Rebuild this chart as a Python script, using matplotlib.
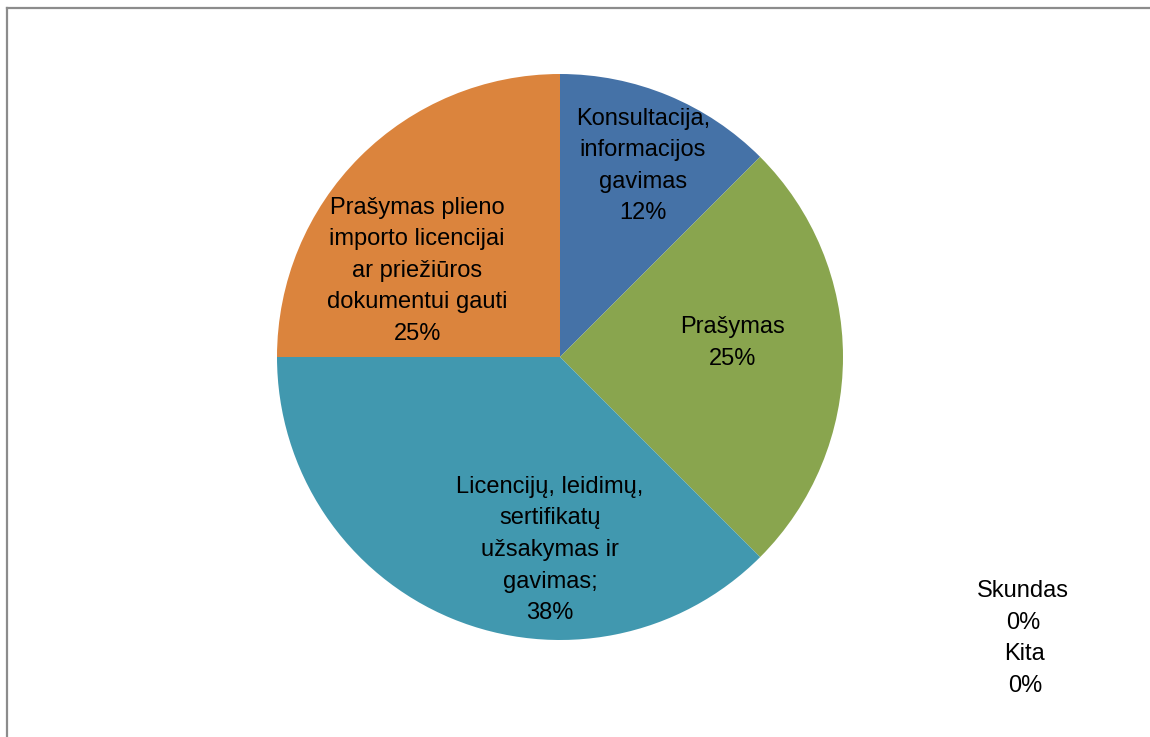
import matplotlib
matplotlib.use('Agg')
import matplotlib.pyplot as plt
from matplotlib.lines import Line2D

# data
categories = ['Konsultacija,\ninformacijos\ngavimas', 'Prašymas', 'Skundas', 'Kita',
              'Licencijų, leidimų,\nsertifikatų\nužsakymas ir\ngavimas;',
              'Prašymas plieno\nimporto licencijai\nar priežiūros\ndokumentui gauti']
values = [1, 2, 0, 0, 3, 2]
pct_labels = ['12%', '25%', '0%', '0%', '38%', '25%']
colors = ['#4572A7', '#89A54E', '#AA4643', '#80699B', '#4198AF', '#DB843D']

# label centres (relative to pie radius)
label_pos = [(0.293, 0.675), (0.611, 0.049), (1.636, -0.883), (1.643, -1.106),
             (-0.035, -0.682), (-0.505, 0.304)]

plt.rcParams['font.family'] = ['Liberation Sans', 'DejaVu Sans']

W, H = 1150, 737
fig = plt.figure(figsize=(W / 100, H / 100), dpi=100)
cx, cy, r = 560, 357, 283
ax = fig.add_axes([(cx - r) / W, (H - cy - r) / H, 2 * r / W, 2 * r / H])
ax.pie(values, colors=colors, startangle=90, counterclock=False, radius=1,
       wedgeprops=dict(linewidth=0))
ax.set_xlim(-1, 1)
ax.set_ylim(-1, 1)
ax.axis('off')

for cat, pct, (x, y) in zip(categories, pct_labels, label_pos):
    ax.text(x, y, cat + '\n' + pct, ha='center', va='center', fontsize=17,
            linespacing=1.56, color='black', clip_on=False)

# chart area border (left and top)
fig.add_artist(Line2D([6.5 / W, 6.5 / W], [0, 1 - 7.5 / H], color='#8c8c8c', lw=1.6,
                      transform=fig.transFigure))
fig.add_artist(Line2D([6.5 / W, 1], [1 - 7.5 / H, 1 - 7.5 / H], color='#8c8c8c', lw=1.6,
                      transform=fig.transFigure))

fig.savefig('out.png', dpi=100)
